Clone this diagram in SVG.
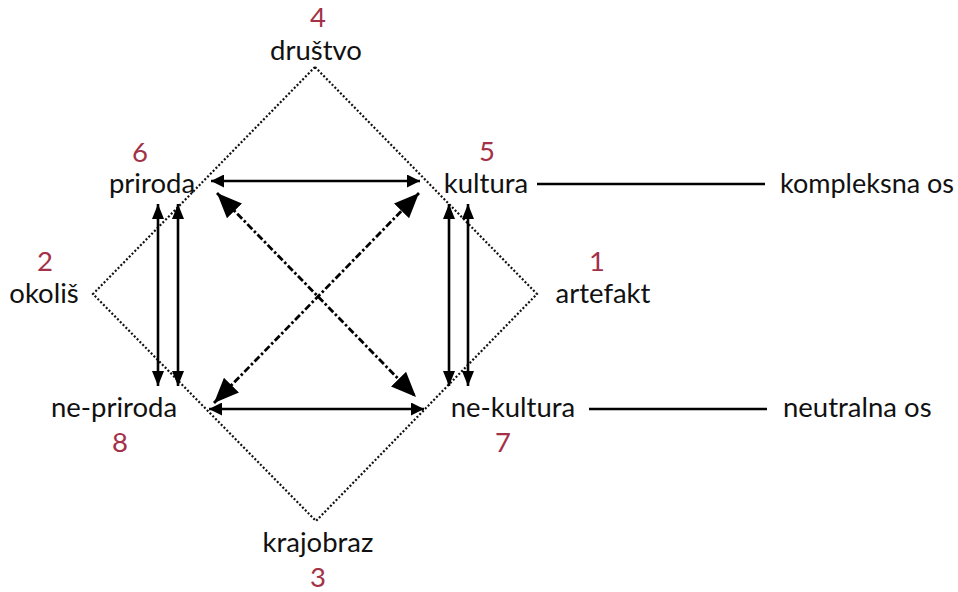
<svg xmlns="http://www.w3.org/2000/svg" width="958" height="592" viewBox="0 0 958 592">
<defs>
<style>
text{font-family:Lato,"Open Sans","Liberation Sans",sans-serif;font-size:27.5px;fill:#111}
.num{fill:#a33148;text-anchor:middle}
.mid{text-anchor:middle}
.dot{fill:none;stroke:#111;stroke-width:2.2;stroke-dasharray:2 2}
.solid{fill:none;stroke:#000;stroke-width:2.6}
.dd{fill:none;stroke:#000;stroke-width:2.8;stroke-dasharray:7 2.5 2.5 2.5}
</style>
<marker id="ah" viewBox="0 0 10 10" refX="10" refY="5" markerWidth="13" markerHeight="13" markerUnits="userSpaceOnUse" orient="auto-start-reverse">
<path d="M0,0 L10,5 L0,10 z" fill="#000"/>
</marker>
<marker id="ahv" viewBox="0 0 10 10" refX="10" refY="5" markerWidth="15" markerHeight="12" markerUnits="userSpaceOnUse" orient="auto-start-reverse" preserveAspectRatio="none">
<path d="M0,0 L10,5 L0,10 z" fill="#000"/>
</marker>
<marker id="ahd" viewBox="0 0 10 10" refX="10" refY="5" markerWidth="25" markerHeight="21" markerUnits="userSpaceOnUse" orient="auto-start-reverse" preserveAspectRatio="none">
<path d="M0,0 L10,5 L0,10 z" fill="#000"/>
</marker>
</defs>
<g id="frame">
<polygon class="dot" points="315,67 537,294 316,521 93,294"/>
</g>
<g id="connectors">
<line class="solid" x1="211" y1="181" x2="420" y2="181" marker-start="url(#ah)" marker-end="url(#ah)"/>
<line class="solid" x1="209" y1="409" x2="424" y2="409" marker-start="url(#ah)" marker-end="url(#ah)"/>
<line class="solid" x1="158" y1="204" x2="158" y2="386" marker-start="url(#ahv)" marker-end="url(#ahv)"/>
<line class="solid" x1="178" y1="204" x2="178" y2="386" marker-start="url(#ahv)" marker-end="url(#ahv)"/>
<line class="solid" x1="449" y1="204" x2="449" y2="386" marker-start="url(#ahv)" marker-end="url(#ahv)"/>
<line class="solid" x1="468" y1="204" x2="468" y2="386" marker-start="url(#ahv)" marker-end="url(#ahv)"/>
<line class="dd" x1="217" y1="193" x2="416" y2="397" marker-start="url(#ahd)" marker-end="url(#ahd)"/>
<line class="dd" x1="214" y1="403" x2="419" y2="193" marker-start="url(#ahd)" marker-end="url(#ahd)"/>
<line class="solid" x1="537" y1="184" x2="765" y2="184"/>
<line class="solid" x1="589" y1="409" x2="767" y2="409"/>
</g>
<g id="n4"><text class="num" x="318" y="27">4</text><text class="mid" x="316" y="60">društvo</text></g>
<g id="n6"><text class="num" x="140" y="162">6</text><text class="mid" x="152" y="193">priroda</text></g>
<g id="n5"><text class="num" x="487" y="161">5</text><text class="mid" x="486" y="193">kultura</text></g>
<g id="kompleksna"><text x="780" y="193" style="font-size:27px">kompleksna os</text></g>
<g id="n2"><text class="num" x="45" y="271">2</text><text class="mid" x="44" y="303">okoliš</text></g>
<g id="n1"><text class="num" x="597" y="271">1</text><text class="mid" x="603" y="303">artefakt</text></g>
<g id="n8"><text class="mid" x="114" y="417">ne-priroda</text><text class="num" x="120" y="452">8</text></g>
<g id="n7"><text class="mid" x="513" y="417">ne-kultura</text><text class="num" x="503" y="452">7</text></g>
<g id="neutralna"><text x="783" y="417">neutralna os</text></g>
<g id="n3"><text class="mid" x="318" y="552">krajobraz</text><text class="num" x="318" y="587">3</text></g>
</svg>
